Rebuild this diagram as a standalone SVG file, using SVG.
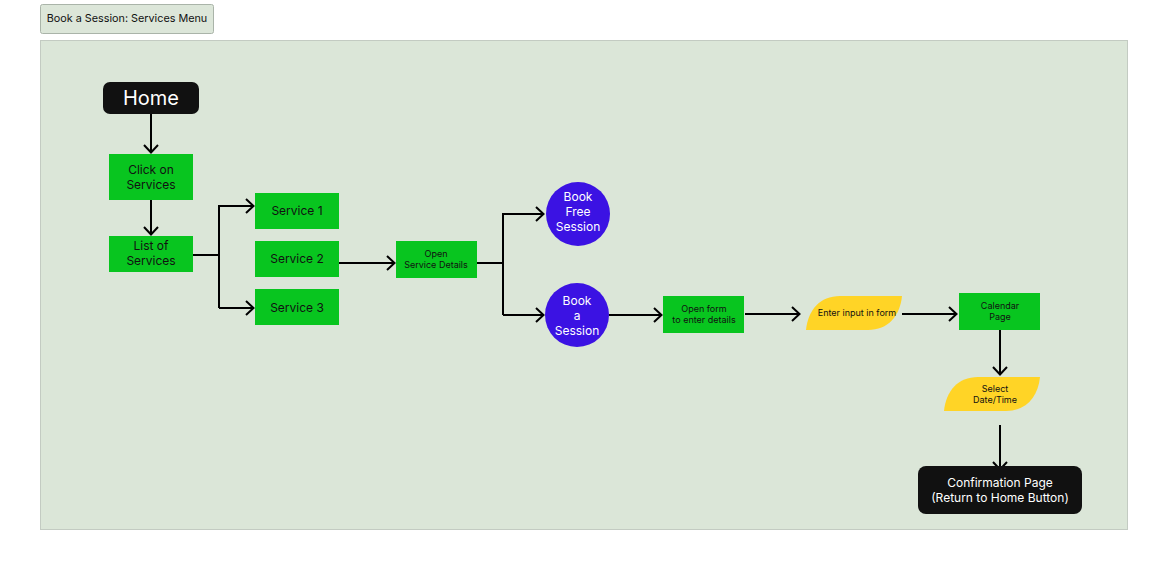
<svg xmlns="http://www.w3.org/2000/svg" width="1168" height="570" viewBox="0 0 1168 570">
<defs>
<style>
text{font-family:Inter,"Noto Sans","Liberation Sans",sans-serif;text-anchor:middle;dominant-baseline:central}
.g{fill:#08c51f}
.y{fill:#ffd426}
.p{fill:#3b12e3}
.k{fill:#111111}
.t12{font-size:12px;fill:#111}
.t9{font-size:9px;fill:#111}
.w12{font-size:12px;fill:#fff}
.c{fill:none;stroke:#000;stroke-width:2}
</style>
<marker id="ah" markerUnits="userSpaceOnUse" viewBox="0 0 10 16" refX="9" refY="8" markerWidth="10" markerHeight="16" orient="auto">
<path d="M1,1 L8.5,8 L1,15" fill="none" stroke="#000" stroke-width="2"/>
</marker>
</defs>
<rect width="1168" height="570" fill="#fff"/>
<g id="title">
<rect x="40.5" y="4.5" width="173" height="29" rx="2" fill="#dce6d9" stroke="#aab4a9"/>
<text x="127" y="18.5" style="font-size:10.8px;fill:#111">Book a Session: Services Menu</text>
</g>
<g id="panel">
<rect x="40.5" y="40.5" width="1087" height="489" fill="#dbe6d8" stroke="#c3cbc2"/>
</g>
<g id="connectors">
<path class="c" d="M151,114 V153" marker-end="url(#ah)"/>
<path class="c" d="M151,200 V235" marker-end="url(#ah)"/>
<path class="c" d="M193,255 H219"/>
<path class="c" d="M219,205 V308"/>
<path class="c" d="M219,206 H254" marker-end="url(#ah)"/>
<path class="c" d="M219,308 H254" marker-end="url(#ah)"/>
<path class="c" d="M339,263 H395" marker-end="url(#ah)"/>
<path class="c" d="M477,263 H503"/>
<path class="c" d="M503,213 V315"/>
<path class="c" d="M503,214 H544" marker-end="url(#ah)"/>
<path class="c" d="M503,315 H544" marker-end="url(#ah)"/>
<path class="c" d="M609,315 H662" marker-end="url(#ah)"/>
<path class="c" d="M745,314 H800" marker-end="url(#ah)"/>
<path class="c" d="M902,314 H957" marker-end="url(#ah)"/>
<path class="c" d="M1000,329 V375" marker-end="url(#ah)"/>
<path class="c" d="M1000,425 V470" marker-end="url(#ah)"/>
</g>
<g id="home">
<rect class="k" x="103" y="82" width="96" height="32" rx="7"/>
<text x="151" y="97.5" style="font-size:20px;fill:#fff">Home</text>
</g>
<g id="click-services">
<rect class="g" x="109" y="154" width="84" height="46"/>
<text class="t12" x="151" y="169.5">Click on</text>
<text class="t12" x="151" y="184.5">Services</text>
</g>
<g id="list-services">
<rect class="g" x="109" y="236" width="84" height="36"/>
<text class="t12" x="151" y="245.5">List of</text>
<text class="t12" x="151" y="260.5">Services</text>
</g>
<g id="service1">
<rect class="g" x="255" y="193" width="84" height="36"/>
<text class="t12" x="297" y="210.5">Service 1</text>
</g>
<g id="service2">
<rect class="g" x="255" y="241" width="84" height="36"/>
<text class="t12" x="297" y="258">Service 2</text>
</g>
<g id="service3">
<rect class="g" x="255" y="289" width="84" height="36"/>
<text class="t12" x="297" y="307">Service 3</text>
</g>
<g id="open-details">
<rect class="g" x="396" y="241" width="81" height="37"/>
<text class="t9" x="436" y="253.5">Open</text>
<text class="t9" x="436" y="264.5">Service Details</text>
</g>
<g id="book-free">
<circle class="p" cx="578" cy="214" r="32"/>
<text class="w12" x="578" y="196.5">Book</text>
<text class="w12" x="578" y="211.5">Free</text>
<text class="w12" x="578" y="226.5">Session</text>
</g>
<g id="book-session">
<circle class="p" cx="577" cy="315" r="32"/>
<text class="w12" x="577" y="300.5">Book</text>
<text class="w12" x="577" y="315.5">a</text>
<text class="w12" x="577" y="330.5">Session</text>
</g>
<g id="open-form">
<rect class="g" x="663" y="296" width="81" height="37"/>
<text class="t9" x="704" y="308.5">Open form</text>
<text class="t9" x="704" y="319.5">to enter details</text>
</g>
<g id="enter-input">
<path class="y" d="M806,330 C808,310 820,296 840,296 H902 C900,316 888,330 868,330 Z"/>
<text class="t9" x="857" y="312.5">Enter input in form</text>
</g>
<g id="calendar">
<rect class="g" x="959" y="293" width="81" height="37"/>
<text class="t9" x="1000" y="305.5">Calendar</text>
<text class="t9" x="1000" y="316.5">Page</text>
</g>
<g id="select-date">
<path class="y" d="M944,411 C946,391 958,377 978,377 H1040 C1038,397 1026,411 1006,411 Z"/>
<text class="t9" x="995" y="388.5">Select</text>
<text class="t9" x="995" y="399.5">Date/Time</text>
</g>
<g id="confirmation">
<rect class="k" x="918" y="466" width="164" height="48" rx="8"/>
<text class="w12" x="1000" y="482.5">Confirmation Page</text>
<text class="w12" x="1000" y="497.5">(Return to Home Button)</text>
</g>
</svg>
